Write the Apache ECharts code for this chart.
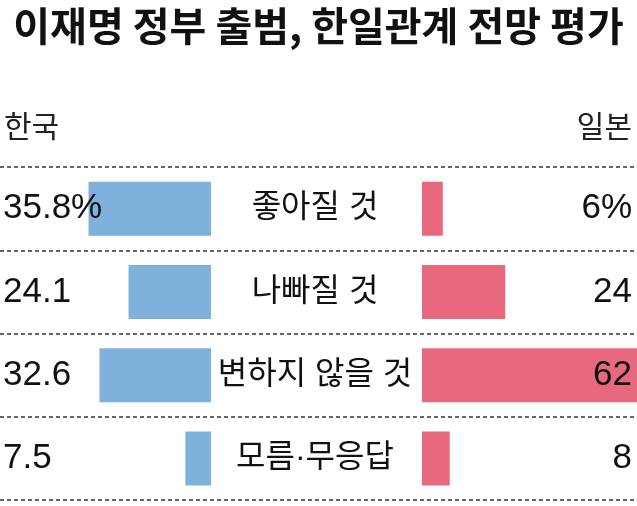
<!DOCTYPE html>
<html>
<head>
<meta charset="utf-8">
<script src="https://cdn.jsdelivr.net/npm/echarts@6/dist/echarts.min.js"></script>
<style>
html,body{margin:0;padding:0;background:#fff;}
#chart{width:637px;height:506px;}
</style>
</head>
<body>
<div id="chart"></div>
<script>
const categories = ['좋아질 것', '나빠질 것', '변하지 않을 것', '모름·무응답'];
const koreaValues = [35.8, 24.1, 32.6, 7.5];
const japanValues = [6, 24, 62, 8];
const koreaLabels = ['35.8%', '24.1', '32.6', '7.5'];
const japanLabels = ['6%', '24', '62', '8'];
const titleText = '이재명 정부 출범, 한일관계 전망 평가';
const koreaName = '한국';
const japanName = '일본';

const KR = "'Liberation Sans', 'Noto Sans CJK KR'";
const NUM = 'Liberation Sans';
const TOP = 167, BOTTOM = 6;

const chart = echarts.init(document.getElementById('chart'), null, {renderer: 'canvas'});
chart.setOption({
  animation: false,
  backgroundColor: '#ffffff',
  title: [
    {text: titleText, left: 'center', top: 1,
     textStyle: {fontFamily: 'Noto Sans CJK KR', fontSize: 40, fontWeight: 'bold', color: '#111'}},
    {text: koreaName, left: -1, top: 106,
     textStyle: {fontFamily: 'Noto Sans CJK KR', fontSize: 30, fontWeight: 'normal', color: '#222'}},
    {text: japanName, right: 0, top: 106,
     textStyle: {fontFamily: 'Noto Sans CJK KR', fontSize: 30, fontWeight: 'normal', color: '#222'}}
  ],
  grid: [
    {left: 0, width: 211, top: TOP, bottom: BOTTOM},
    {left: 422, right: 0, top: TOP, bottom: BOTTOM},
    {left: 0, right: 0, top: TOP, bottom: BOTTOM}
  ],
  xAxis: [
    {gridIndex: 0, type: 'value', inverse: true, min: 0, max: 60.8, show: false},
    {gridIndex: 1, type: 'value', min: 0, max: 62, show: false},
    {gridIndex: 2, type: 'value', min: 0, max: 1, show: false}
  ],
  yAxis: [
    {gridIndex: 0, type: 'category', data: categories, inverse: true, position: 'left', z: 10,
     axisLine: {show: false, onZero: false}, axisTick: {show: false}, splitLine: {show: false},
     axisLabel: {inside: true, align: 'left', margin: 0, fontFamily: NUM, fontSize: 35, color: '#111',
       formatter: (v, i) => koreaLabels[i]}},
    {gridIndex: 1, type: 'category', data: categories, inverse: true, position: 'right', z: 10,
     axisLine: {show: false, onZero: false}, axisTick: {show: false}, splitLine: {show: false},
     axisLabel: {inside: true, align: 'right', margin: 5, fontFamily: NUM, fontSize: 35, color: '#111',
       formatter: (v, i) => japanLabels[i]}},
    {gridIndex: 2, type: 'category', data: categories, inverse: true, position: 'left', z: 10,
     axisLine: {show: false, onZero: false}, axisTick: {show: false},
     splitLine: {show: true, lineStyle: {color: '#333', width: 1.5, type: [4, 3]}},
     axisLabel: {inside: true, align: 'center', margin: 315, fontFamily: KR, fontSize: 32, color: '#111'}}
  ],
  series: [
    {name: koreaName, type: 'bar', xAxisIndex: 0, yAxisIndex: 0, data: koreaValues,
     barWidth: 54, itemStyle: {color: '#7EB2DD'}, silent: true},
    {name: japanName, type: 'bar', xAxisIndex: 1, yAxisIndex: 1, data: japanValues,
     barWidth: 54, itemStyle: {color: '#E8697E'}, silent: true}
  ]
});
</script>
</body>
</html>
